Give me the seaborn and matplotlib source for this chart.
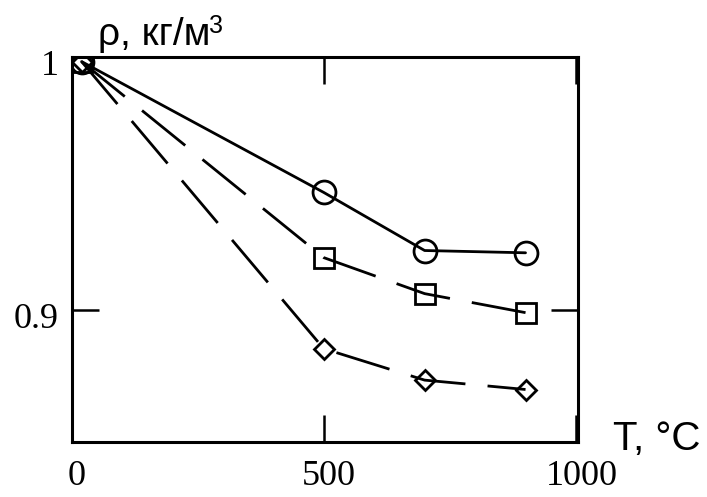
import matplotlib
matplotlib.use("Agg")
import matplotlib.pyplot as plt
import matplotlib.transforms as mtransforms
import numpy as np
import pandas as pd
import seaborn as sns

# Temperature points, °C
temperature = [20, 500, 700, 900]
# Relative density for three materials
density_circle = [0.998, 0.9464, 0.9235, 0.9226]
density_square = [0.998, 0.9207, 0.9065, 0.8990]
density_diamond = [0.998, 0.8848, 0.8724, 0.8687]

x_ticks = [0, 500, 1000]
x_ticklabels = ["0", "500", "1000"]
y_ticks = [0.9, 1.0]
y_ticklabels = ["0.9", "1"]

sns.set_theme(style="white")
plt.rcParams["font.family"] = ["Liberation Sans", "DejaVu Sans"]

fig = plt.figure(figsize=(7.07, 4.97), dpi=100)
ax = fig.add_axes([71.5 / 707, 1 - 442 / 497, (578 - 71.5) / 707, (442 - 56.5) / 497])

series = [
    (density_circle, "o", 16.5, None),
    (density_square, "s", 14, (20, 8)),
    (density_diamond, "D", 10, (20, 8)),
]

for values, marker, ms, dashes in series:
    df = pd.DataFrame({"T": temperature, "rho": values})
    sns.lineplot(
        data=df, x="T", y="rho", ax=ax, color="black", linewidth=2.0,
        marker=marker, markersize=ms, markerfacecolor="none",
        markeredgecolor="black", markeredgewidth=2.0,
        estimator=None, sort=False,
    )
    line = ax.lines[-1]
    if dashes is not None:
        line.set_dashes(dashes)

ax.set_xlim(0, 1004)
ax.set_ylim(0.848, 1.0)
ax.set_xticks(x_ticks)
ax.set_xticklabels(x_ticklabels)
ax.set_yticks(y_ticks)
ax.set_yticklabels(y_ticklabels)
ax.set_xlabel("")
ax.set_ylabel("")

for spine in ax.spines.values():
    spine.set_color("black")
    spine.set_linewidth(2.2)

ax.tick_params(axis="both", direction="in", length=19.5, width=1.8,
               color="black", bottom=True, left=True, top=True, right=True,
               labelsize=26, labelcolor="black")
ax.tick_params(axis="x", pad=13)
ax.tick_params(axis="y", pad=9)

shift_x = mtransforms.ScaledTranslation(4 / 72, 0, fig.dpi_scale_trans)
shift_y = mtransforms.ScaledTranslation(0, -4 / 72, fig.dpi_scale_trans)
for lab in ax.get_xticklabels():
    lab.set_fontfamily("Liberation Serif")
    lab.set_transform(lab.get_transform() + shift_x)
for lab in ax.get_yticklabels():
    lab.set_fontfamily("Liberation Serif")
    lab.set_transform(lab.get_transform() + shift_y)

# Axis captions placed at the ends of the axes
fig.text(98 / 707, 1 - 45 / 497, "ρ, кг/м", fontsize=28,
         family="Liberation Sans", va="baseline", ha="left", color="black")
fig.text(209 / 707, 1 - 33 / 497, "3", fontsize=18,
         family="Liberation Sans", va="baseline", ha="left", color="black")
fig.text(613 / 707, 1 - 450 / 497, "T, °C", fontsize=29,
         family="Liberation Sans", va="baseline", ha="left", color="black")

fig.savefig("out.png", dpi=100, facecolor="white")
